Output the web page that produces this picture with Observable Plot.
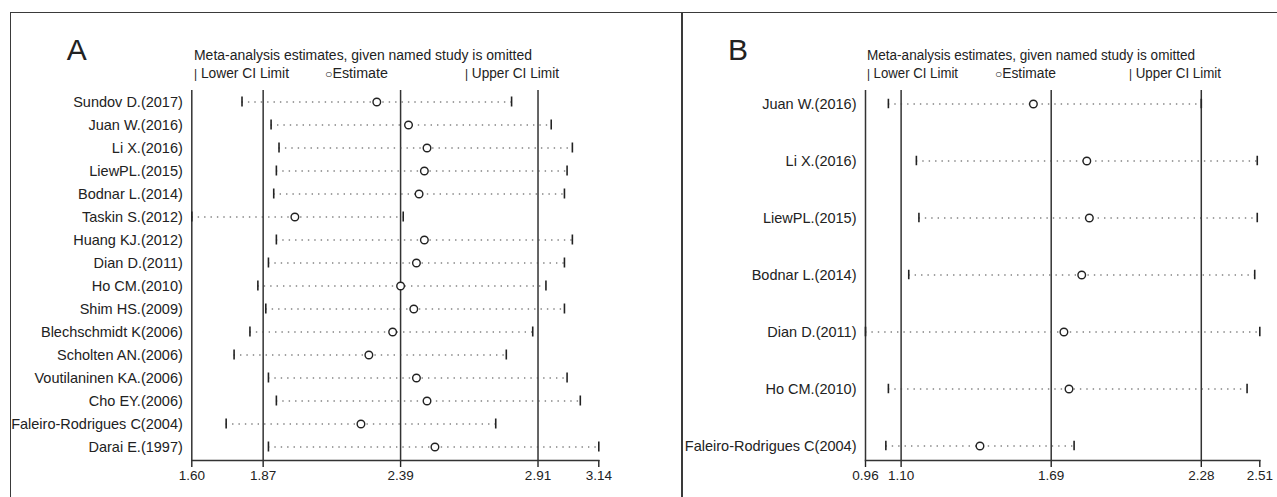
<!DOCTYPE html>
<html><head><meta charset="utf-8">
<script src="https://cdn.jsdelivr.net/npm/d3@7"></script>
<script src="https://cdn.jsdelivr.net/npm/@observablehq/plot@0.6"></script>
<style>
body{margin:0;background:#fff;}
#wrap{position:relative;width:1277px;height:497px;overflow:hidden;background:#fff;font-family:"Liberation Sans",Arial,sans-serif;}
.box{position:absolute;left:10px;top:12px;width:1300px;height:520px;border:1.5px solid #3a3a3a;box-sizing:border-box;}
.divider{position:absolute;left:681px;top:12px;width:1.5px;height:500px;background:#3a3a3a;}
.plot{position:absolute;top:0;}
#overlay{position:absolute;left:0;top:0;}
</style></head><body>
<div id="wrap">
  <div class="box"></div>
  <div class="divider"></div>
  <div id="panelA" class="plot" style="left:0px"></div>
  <div id="panelB" class="plot" style="left:682px"></div>
  <svg id="overlay" width="1277" height="497"></svg>
</div>
<script>
// ---------- Data ----------
const studiesA = ["Sundov D.(2017)", "Juan W.(2016)", "Li X.(2016)", "LiewPL.(2015)", "Bodnar L.(2014)",
  "Taskin S.(2012)", "Huang KJ.(2012)", "Dian D.(2011)", "Ho CM.(2010)", "Shim HS.(2009)",
  "Blechschmidt K(2006)", "Scholten AN.(2006)", "Voutilaninen KA.(2006)", "Cho EY.(2006)",
  "Faleiro-Rodrigues C(2004)", "Darai E.(1997)"];
const lowerA = [1.79, 1.90, 1.93, 1.92, 1.91, 1.60, 1.92, 1.89, 1.85, 1.88, 1.82, 1.76, 1.89, 1.92, 1.73, 1.89];
const estA   = [2.30, 2.42, 2.49, 2.48, 2.46, 1.99, 2.48, 2.45, 2.39, 2.44, 2.36, 2.27, 2.45, 2.49, 2.24, 2.52];
const upperA = [2.81, 2.96, 3.04, 3.02, 3.01, 2.40, 3.04, 3.01, 2.94, 3.01, 2.89, 2.79, 3.02, 3.07, 2.75, 3.14];
const ticksA = [1.60, 1.87, 2.39, 2.91, 3.14];
const linesA = [1.60, 1.87, 2.39, 2.91];

const studiesB = ["Juan W.(2016)", "Li X.(2016)", "LiewPL.(2015)", "Bodnar L.(2014)", "Dian D.(2011)",
  "Ho CM.(2010)", "Faleiro-Rodrigues C(2004)"];
const lowerB = [1.05, 1.16, 1.17, 1.13, 0.96, 1.05, 1.04];
const estB   = [1.62, 1.83, 1.84, 1.81, 1.74, 1.76, 1.41];
const upperB = [2.28, 2.50, 2.50, 2.49, 2.51, 2.46, 1.78];
const ticksB = [0.96, 1.10, 1.69, 2.28, 2.51];
const linesB = [0.96, 1.10, 1.69, 2.28];

const legendTitle = "Meta-analysis estimates, given named study is omitted";

// ---------- Panels ----------
function panel(names, lo, est, hi, ticks, lines, cfg) {
  const rows = names.map((name, i) => ({name, lo: lo[i], est: est[i], hi: hi[i]}));
  return Plot.plot({
    width: cfg.width, height: 497,
    marginTop: 90, marginBottom: 37, marginLeft: cfg.marginLeft, marginRight: cfg.marginRight,
    x: {domain: [ticks[0], ticks[ticks.length - 1]]},
    y: {type: "band", domain: names, range: cfg.yRange, padding: 0},
    style: {fontFamily: "'Liberation Sans', Arial, sans-serif", fontSize: "14.5px", color: "#222",
            background: "transparent", overflow: "visible"},
    marks: [
      Plot.ruleX(lines, {stroke: "#333", strokeWidth: 1.5}),
      Plot.ruleY(rows, {x1: "lo", x2: "hi", y: "name", stroke: "#444", strokeWidth: 1.1, strokeDasharray: "1.4,5"}),
      Plot.tickX(rows, {x: "lo", y: "name", insetTop: cfg.inset, insetBottom: cfg.inset, stroke: "#222", strokeWidth: 1.6}),
      Plot.tickX(rows, {x: "hi", y: "name", insetTop: cfg.inset, insetBottom: cfg.inset, stroke: "#222", strokeWidth: 1.6}),
      Plot.dot(rows, {x: "est", y: "name", r: 3.8, stroke: "#222", fill: "white", strokeWidth: 1.4}),
      Plot.axisX({ticks, tickFormat: d => d.toFixed(2), tickSize: 7, tickPadding: 3, label: null,
                  strokeWidth: 1.4, fontSize: 13.5}),
      Plot.axisY({tickSize: 0, tickPadding: 9, label: null}),
      Plot.frame({anchor: "bottom", stroke: "#333", strokeWidth: 1.5})
    ]
  });
}

document.getElementById("panelA").append(panel(studiesA, lowerA, estA, upperA, ticksA, linesA,
  {width: 682, marginLeft: 191.3, marginRight: 83.7, yRange: [90.2, 458.2], inset: 6.5}));
document.getElementById("panelB").append(panel(studiesB, lowerB, estB, upperB, ticksB, linesB,
  {width: 595, marginLeft: 183, marginRight: 17.7, yRange: [72.95, 475.45], inset: 23.75}));

// ---------- Titles & legends ----------
const ov = d3.select("#overlay").attr("font-family", "'Liberation Sans', Arial, sans-serif").attr("fill", "#222");
function label(txt, x, y, size, len) {
  const t = ov.append("text").attr("x", x).attr("y", y).attr("font-size", size).text(txt);
  if (len) t.attr("textLength", len).attr("lengthAdjust", "spacingAndGlyphs");
  return t;
}
function legendItem(sym, txt, x, y, len) {
  const t = ov.append("text").attr("x", x).attr("y", y).attr("font-size", 14)
    .attr("textLength", len).attr("lengthAdjust", "spacingAndGlyphs");
  t.append("tspan").attr("font-size", 12).text(sym);
  t.append("tspan").text(txt);
}
const legends = [
  {panel: "A", px: 66.7, lx: 194, lt: 338, items: [[194, 95], [325, 63], [465, 94]]},
  {panel: "B", px: 728, lx: 867, lt: 328, items: [[867, 91], [995, 61], [1129, 92]]}
];
legends.forEach(L => {
  label(L.panel, L.px, 60, 30);
  label(legendTitle, L.lx, 60, 14, L.lt);
  legendItem("|", " Lower CI Limit", L.items[0][0], 78, L.items[0][1]);
  legendItem("○", "Estimate", L.items[1][0], 78, L.items[1][1]);
  legendItem("|", " Upper CI Limit", L.items[2][0], 78, L.items[2][1]);
});
</script>
</body></html>
